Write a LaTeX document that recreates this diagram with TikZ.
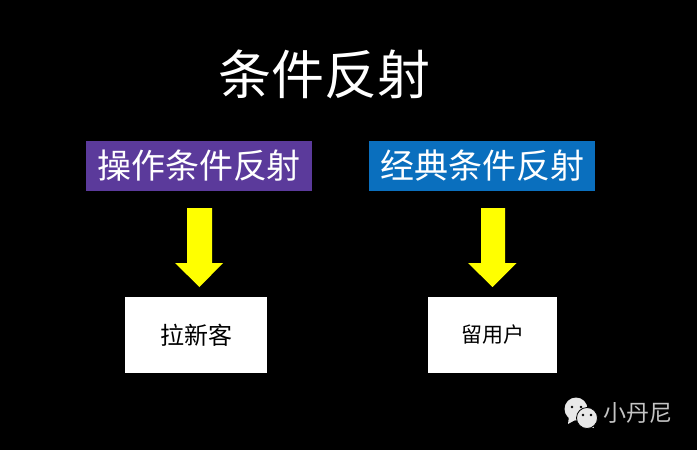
\documentclass[tikz,border=0pt]{standalone}
\usepackage{fontspec}
\setmainfont{Noto Sans CJK SC}
\definecolor{purp}{HTML}{5B3A9B}
\definecolor{blu}{HTML}{0A6FBE}
\definecolor{arrowy}{HTML}{FFFF00}
\definecolor{wmgrey}{HTML}{C4C4C4}
\definecolor{iconwhite}{HTML}{E8E8E8}
\tikzset{
 headbox/.style={inner sep=0pt,text=white,font=\fontsize{34}{34}\selectfont,minimum height=50pt,minimum width=226pt},
 whitebox/.style={fill=white,inner sep=0pt,text=black,font=\fontsize{24}{24}\selectfont,minimum width=142pt,minimum height=76pt},
 yarrow/.style={fill=arrowy,draw=none},
 bubble/.style={fill=iconwhite,draw=black,line width=0.8pt},
 eye/.style={fill=black,draw=none}
}
\begin{document}
\begin{tikzpicture}[x=1pt,y=-1pt]
\useasboundingbox (0,0) rectangle (697,450);
\fill[black] (0,0) rectangle (697,450);
\node[text=white,font=\fontsize{53}{53}\selectfont,inner sep=0pt] (title) at (324,74) {条件反射};
\node[headbox,fill=purp] (h1) at (199,166) {操作条件反射\hspace{2pt}};
\node[headbox,fill=blu] (h2) at (482,166) {经典条件反射\hspace{4pt}};
\node[whitebox] (b1) at (196,335) {拉新客};
\node[whitebox,minimum width=129pt,font=\fontsize{21}{21}\selectfont] (b2) at (492.5,335) {\raisebox{1.5pt}{留用户}\hspace{2pt}};
\fill[yarrow] (187,208)--(212,208)--(212,263)--(223,263)--(199.5,287)--(175,263)--(187,263)--cycle;
\fill[yarrow] (481,208)--(505,208)--(505,263)--(516.5,263)--(492.5,287)--(468,263)--(481,263)--cycle;
% watermark icon
\fill[iconwhite] (569,416)--(568,424)--(577,419)--cycle;
\fill[bubble,draw=none] (576,409) circle (11.5);
\fill[iconwhite] (592,424)--(594,428)--(586,426)--cycle;
\draw[bubble] (587,418) circle (10.5);
\fill[eye] (572,407) circle (1.4);
\fill[eye] (581,407) circle (1.4);
\fill[eye] (583,415) circle (1.3);
\fill[eye] (591,415) circle (1.3);
\node[text=wmgrey,font=\fontsize{23}{23}\selectfont,inner sep=0pt] (wm) at (638,413) {小丹尼};
\end{tikzpicture}
\end{document}
